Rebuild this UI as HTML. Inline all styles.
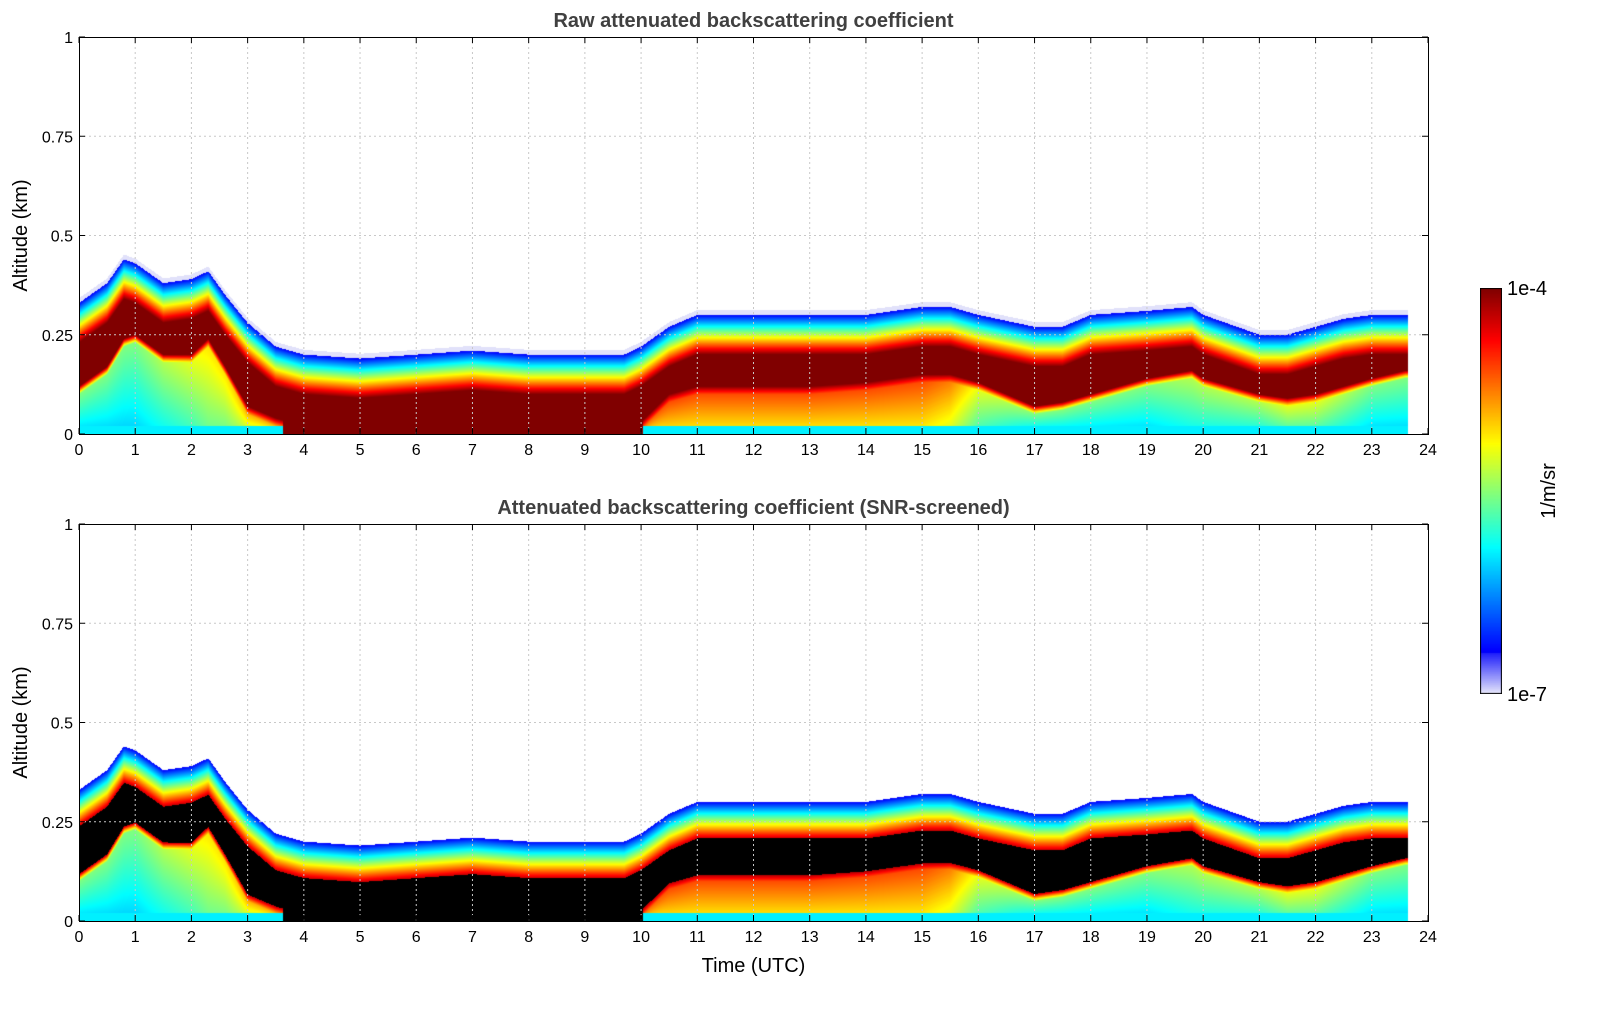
<!DOCTYPE html>
<html><head><meta charset="utf-8">
<style>
body{margin:0;background:#fff;width:1621px;height:1020px;overflow:hidden;font-family:"Liberation Sans","DejaVu Sans",sans-serif;}
#wrap{position:relative;width:1621px;height:1020px;}
canvas{position:absolute;}
svg{position:absolute;left:0;top:0;}
</style></head><body>
<div id="wrap">
<canvas id="c1" width="1349" height="397" style="left:79px;top:37px"></canvas>
<canvas id="c2" width="1349" height="397" style="left:79px;top:524px"></canvas>
<canvas id="cb" width="22" height="406" style="left:1480px;top:288px"></canvas>
<svg id="s" width="1621" height="1020"></svg>
</div>
<script>
// layer top altitude (km) vs time (UTC hours)
const times=[0,0.5,0.8,1,1.5,2,2.3,2.6,3,3.5,4,5,6,7,8,9,9.7,10,10.5,11,12,13,14,15,15.5,16,17,17.5,18,19,19.8,20,21,21.5,22,22.5,23,23.6];
const layerTop=[0.33,0.38,0.44,0.43,0.38,0.39,0.41,0.35,0.28,0.22,0.2,0.19,0.2,0.21,0.2,0.2,0.2,0.22,0.27,0.3,0.3,0.3,0.3,0.32,0.32,0.3,0.27,0.27,0.3,0.31,0.32,0.3,0.25,0.25,0.27,0.29,0.3,0.3];
const lowTop=[0.1,0.15,0.22,0.23,0.18,0.18,0.22,0.15,0.05,0.02,0,0,0,0,0,0,0,0.01,0.08,0.1,0.1,0.1,0.11,0.13,0.13,0.11,0.05,0.06,0.08,0.12,0.14,0.12,0.08,0.07,0.08,0.1,0.12,0.14];
const lowLevel=[0.5,0.5,0.5,0.5,0.55,0.6,0.65,0.65,0.7,0.7,0.7,0.7,0.7,0.7,0.7,0.7,0.7,0.75,0.8,0.8,0.8,0.8,0.8,0.8,0.75,0.6,0.5,0.5,0.5,0.5,0.55,0.55,0.55,0.6,0.6,0.55,0.5,0.5];
const xTicks=[...Array(25).keys()];
const yTicks=[0,0.25,0.5,0.75,1];
const yTickLabels=["0","0.25","0.5","0.75","1"];
const tEnd=23.65;

const W=1349,H=397,X0=79,TOPS=[37,524];
const xs=t=>t/24*W, ys=z=>H-z*H;
function interp(arr,t){for(let i=0;i<times.length-1;i++){if(t<=times[i+1]){const f=(t-times[i])/(times[i+1]-times[i]);return arr[i]+f*(arr[i+1]-arr[i]);}}return arr[arr.length-1];}
const cl=v=>Math.max(0,Math.min(1,v));
function jet(v){return [cl(1.5-Math.abs(4*v-3))*255,cl(1.5-Math.abs(4*v-2))*255,cl(1.5-Math.abs(4*v-1))*255];}
function draw(id,screened){
 const ctx=document.getElementById(id).getContext('2d');const img=ctx.createImageData(W,H);
 for(let px=0;px<W;px++){const t=(px+0.5)/W*24;if(t>tEnd)continue;
  const top=interp(layerTop,t),low=interp(lowTop,t),lv=interp(lowLevel,t);
  for(let py=0;py<H;py++){const z=(H-py-0.5)/H;let col=null;const d=top-z;
   if(d<0){ if(d>-0.012&&!screened) col=[225,225,250]; }
   else if(d<0.1){const v=0.12+d/0.1*0.88;col=(screened&&v>0.93)?[0,0,0]:jet(v);}
   else if(low<0.015||z>low+0.02){col=screened?[0,0,0]:jet(1);}
   else if(z>low){const f=(z-low)/0.02;const v=lv+f*(1-lv);col=(screened&&v>0.95)?[0,0,0]:jet(v);}
   else {const v=lv-0.18*(1-z/low);col=jet(v);}
   if(z<0.02&&low>0.015)col=jet(0.36);
   if(col){const k=(py*W+px)*4;img.data[k]=col[0];img.data[k+1]=col[1];img.data[k+2]=col[2];img.data[k+3]=255;}
  }}
 ctx.putImageData(img,0,0);
}
draw('c1',false);draw('c2',true);
// colorbar
(()=>{const ctx=document.getElementById('cb').getContext('2d');for(let y=0;y<406;y++){const v=1-y/405;let c;if(v<0.1){const f=v/0.1;c=[230-200*f,230-200*f,250];}else c=jet(0.12+(v-0.1)/0.9*0.88);ctx.fillStyle=`rgb(${c[0]|0},${c[1]|0},${c[2]|0})`;ctx.fillRect(0,y,22,1);}ctx.strokeStyle='#000';ctx.strokeRect(0.5,0.5,21,405);})();
// axes
const s=document.getElementById('s');const NS='http://www.w3.org/2000/svg';
function el(tag,attrs,txt){const e=document.createElementNS(NS,tag);for(const k in attrs)e.setAttribute(k,attrs[k]);if(txt!==undefined)e.textContent=txt;s.appendChild(e);return e;}
const titles=["Raw attenuated backscattering coefficient","Attenuated backscattering coefficient (SNR-screened)"];
TOPS.forEach((T,p)=>{
 xTicks.forEach(t=>{const x=X0+xs(t);
  if(t>0&&t<24){const g=el('line',{x1:x,x2:x,y1:T,y2:T+H,stroke:'#c8c8c8','stroke-dasharray':'2,3'});}
  el('line',{x1:x,x2:x,y1:T+H,y2:T+H-6,stroke:'#000'});el('line',{x1:x,x2:x,y1:T,y2:T+6,stroke:'#000'});
  const l=el('text',{x:x,y:T+H+21,'font-size':16,'text-anchor':'middle'},String(t));});
 yTicks.forEach((z,i)=>{const y=T+ys(z);
  if(z>0&&z<1){const g=el('line',{x1:X0,x2:X0+W,y1:y,y2:y,stroke:'#c8c8c8','stroke-dasharray':'2,3'});}
  el('line',{x1:X0,x2:X0+6,y1:y,y2:y,stroke:'#000'});el('line',{x1:X0+W,x2:X0+W-6,y1:y,y2:y,stroke:'#000'});
  const l=el('text',{x:X0-6,y:y+6,'font-size':16,'text-anchor':'end'},yTickLabels[i]);});
 const r=el('rect',{x:X0+0.5,y:T+0.5,width:W,height:H,fill:'none',stroke:'#000'});
 const tt=el('text',{x:X0+W/2,y:T-10,'font-size':20,'font-weight':'bold',fill:'#404040','text-anchor':'middle'},titles[p]);
 const yl=el('text',{x:0,y:0,'font-size':20,'text-anchor':'middle',transform:`translate(27,${T+H/2}) rotate(-90)`},'Altitude (km)');
});
const xl=el('text',{x:X0+W/2,y:972,'font-size':20,'text-anchor':'middle'},'Time (UTC)');
const c1=el('text',{x:1507,y:295,'font-size':20},'1e-4');
const c2=el('text',{x:1507,y:701,'font-size':20},'1e-7');
const c3=el('text',{x:0,y:0,'font-size':20,'text-anchor':'middle',transform:'translate(1555,491) rotate(-90)'},'1/m/sr');
</script>
</body></html>
